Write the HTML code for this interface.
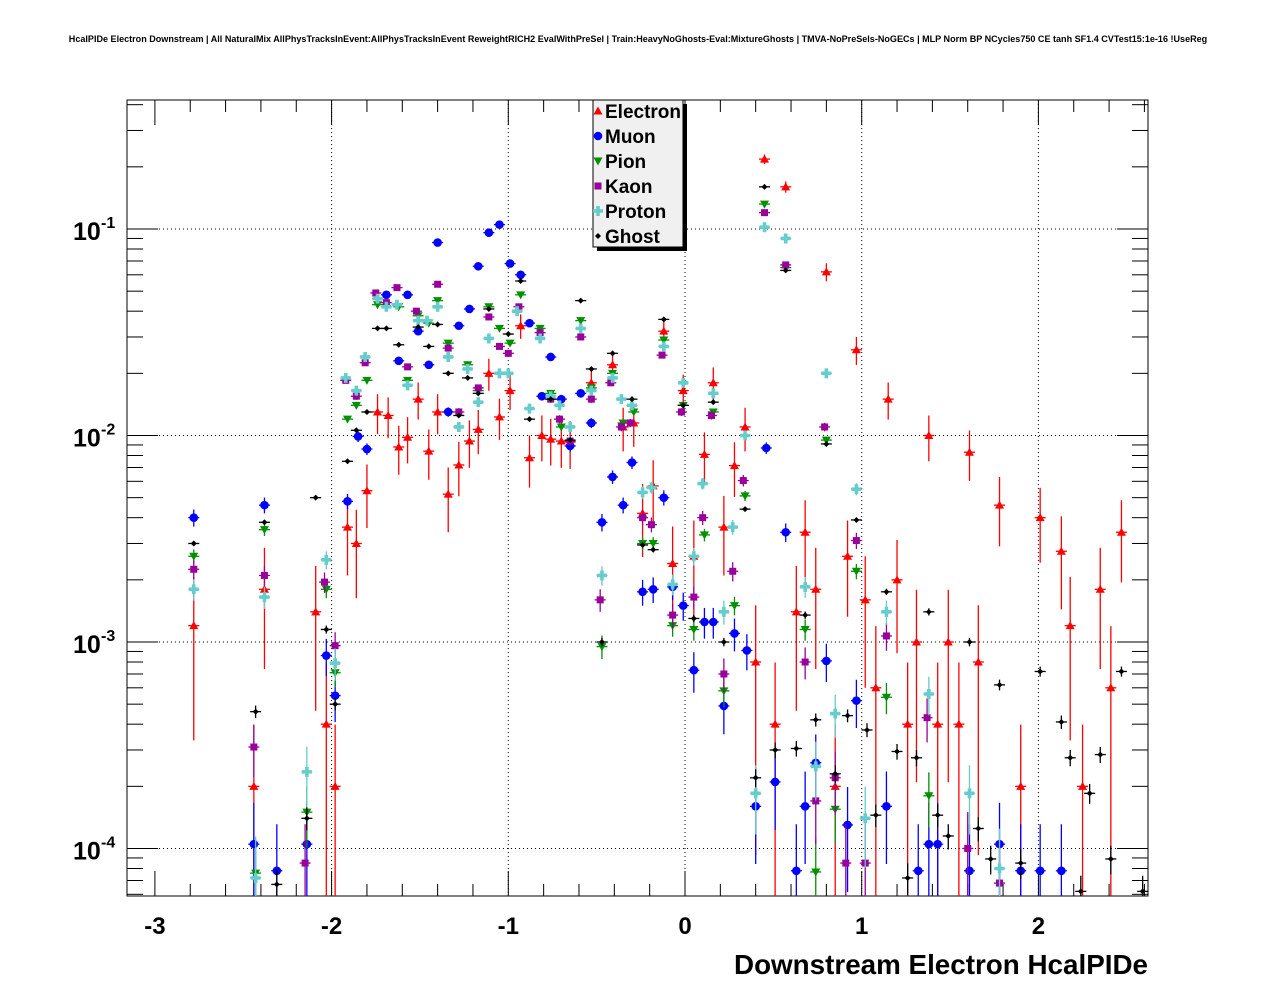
<!DOCTYPE html>
<html><head><meta charset="utf-8">
<style>
html,body{margin:0;padding:0;background:#fff;}
svg{display:block;font-family:"Liberation Sans",sans-serif;}
</style></head>
<body>
<svg id="chart" width="1276" height="996" viewBox="0 0 1276 996" xmlns="http://www.w3.org/2000/svg">
<rect width="1276" height="996" fill="#fff"/>
<text x="638" y="42" text-anchor="middle" font-size="9.05" font-weight="bold">HcalPIDe Electron Downstream | All NaturalMix AllPhysTracksInEvent:AllPhysTracksInEvent ReweightRICH2 EvalWithPreSel | Train:HeavyNoGhosts-Eval:MixtureGhosts | TMVA-NoPreSels-NoGECs | MLP Norm BP NCycles750 CE tanh SF1.4 CVTest15:1e-16 !UseReg</text>
<defs><clipPath id="clip"><rect x="127" y="100" width="1021" height="796"/></clipPath></defs>
<g id="grid"></g>
<g id="axes"></g>
<g id="marks" clip-path="url(#clip)"></g>
<g id="legend"></g>
<text x="1148" y="974" text-anchor="end" font-size="27.8" font-weight="bold">Downstream Electron HcalPIDe</text>
</svg>
<script>
const xTicks = [-3, -2, -1, 0, 1, 2];
const yDecades = [-1, -2, -3, -4];
const seriesNames = ["Electron", "Muon", "Pion", "Kaon", "Proton", "Ghost"];

const electronX = [-2.78,-2.44,-2.38,-2.09,-2.03,-1.98,-1.91,-1.86,-1.80,-1.74,-1.68,-1.62,-1.57,-1.51,-1.45,-1.40,-1.34,-1.28,-1.22,-1.17,-1.11,-1.05,-0.99,-0.93,-0.88,-0.81,-0.76,-0.70,-0.65,-0.53,-0.41,-0.35,-0.29,-0.24,-0.18,-0.12,-0.07,-0.01,0.05,0.11,0.16,0.22,0.28,0.34,0.40,0.45,0.51,0.57,0.63,0.68,0.74,0.80,0.85,0.92,0.97,1.02,1.08,1.15,1.20,1.26,1.31,1.38,1.43,1.49,1.55,1.61,1.66,1.78,1.90,2.01,2.13,2.18,2.25,2.35,2.41,2.47];
const electronY = [1.2e-3,2.0e-4,1.8e-3,1.4e-3,4.0e-4,2.0e-4,3.6e-3,3.0e-3,5.4e-3,1.3e-2,1.25e-2,8.8e-3,9.8e-3,1.5e-2,8.4e-3,1.3e-2,5.2e-3,7.2e-3,9.4e-3,1.07e-2,2.0e-2,1.23e-2,1.65e-2,3.4e-2,7.8e-3,1.0e-2,9.6e-3,9.4e-3,9.3e-3,1.8e-2,2.2e-2,1.1e-2,1.15e-2,4.2e-3,5.7e-3,3.2e-2,2.4e-3,1.65e-2,2.6e-3,8.1e-3,1.8e-2,3.6e-3,7.15e-3,1.1e-2,8.0e-4,0.218,4.0e-4,0.16,1.4e-3,3.4e-3,1.8e-3,6.2e-2,2.0e-4,2.6e-3,2.6e-2,1.6e-3,6.0e-4,1.5e-2,2.0e-3,4.0e-4,1.0e-3,1.0e-2,4.0e-4,1.0e-3,4.0e-4,8.3e-3,8.0e-4,4.6e-3,2.0e-4,4.0e-3,2.75e-3,1.2e-3,2.0e-4,1.8e-3,6.0e-4,3.4e-3];

const muonX = [-2.78,-2.44,-2.38,-2.31,-2.14,-2.03,-1.98,-1.91,-1.85,-1.80,-1.69,-1.62,-1.57,-1.51,-1.45,-1.40,-1.34,-1.28,-1.22,-1.17,-1.11,-1.05,-0.99,-0.93,-0.88,-0.81,-0.76,-0.70,-0.65,-0.59,-0.53,-0.47,-0.41,-0.35,-0.30,-0.24,-0.18,-0.12,-0.07,-0.01,0.05,0.11,0.16,0.22,0.28,0.35,0.40,0.46,0.51,0.57,0.63,0.68,0.74,0.80,0.92,0.97,1.14,1.32,1.38,1.43,1.61,1.78,1.90,2.01,2.13];
const muonY = [4.0e-3,1.05e-4,4.6e-3,7.8e-5,1.05e-4,8.6e-4,5.5e-4,4.8e-3,9.9e-3,8.6e-3,4.8e-2,2.3e-2,4.8e-2,3.2e-2,2.2e-2,8.6e-2,1.3e-2,3.4e-2,4.1e-2,6.6e-2,9.6e-2,0.105,6.8e-2,6.0e-2,3.5e-2,1.55e-2,2.4e-2,1.5e-2,8.9e-3,1.6e-2,1.15e-2,3.8e-3,6.3e-3,4.6e-3,7.4e-3,1.75e-3,1.8e-3,5.0e-3,1.85e-3,1.5e-3,7.3e-4,1.25e-3,1.25e-3,4.9e-4,1.1e-3,9.1e-4,1.6e-4,8.7e-3,2.1e-4,3.4e-3,7.8e-5,1.6e-4,2.6e-4,8.1e-4,1.3e-4,5.2e-4,1.6e-4,7.8e-5,1.05e-4,1.05e-4,7.8e-5,1.05e-4,7.8e-5,7.8e-5,7.8e-5];

const pionX = [-2.78,-2.43,-2.38,-2.14,-2.03,-1.98,-1.91,-1.86,-1.80,-1.74,-1.62,-1.57,-1.51,-1.45,-1.40,-1.34,-1.23,-1.17,-1.11,-1.05,-0.99,-0.93,-0.82,-0.76,-0.70,-0.59,-0.53,-0.47,-0.41,-0.35,-0.29,-0.24,-0.18,-0.12,-0.07,-0.01,0.05,0.11,0.16,0.22,0.28,0.34,0.45,0.57,0.68,0.74,0.80,0.85,0.97,1.14,1.38];
const pionY = [2.6e-3,7.6e-5,3.5e-3,1.5e-4,1.8e-3,7.1e-4,1.2e-2,1.4e-2,1.85e-2,4.3e-2,4.2e-2,1.85e-2,3.8e-2,3.5e-2,4.5e-2,2.8e-2,2.2e-2,1.65e-2,4.2e-2,3.3e-2,2.8e-2,4.8e-2,3.3e-2,1.6e-2,1.1e-2,3.6e-2,1.7e-2,9.5e-4,2.0e-2,1.15e-2,1.3e-2,3.0e-3,3.0e-3,2.9e-2,1.2e-3,1.4e-2,1.15e-3,3.3e-3,1.3e-2,5.8e-4,1.5e-3,5.1e-3,0.132,6.5e-2,1.15e-3,7.7e-5,9.5e-3,1.55e-4,2.2e-3,5.4e-4,1.8e-4];

const kaonX = [-2.78,-2.44,-2.38,-2.15,-2.04,-1.98,-1.92,-1.86,-1.81,-1.75,-1.69,-1.63,-1.57,-1.52,-1.40,-1.34,-1.28,-1.17,-1.11,-1.05,-1.00,-0.94,-0.82,-0.76,-0.71,-0.65,-0.59,-0.53,-0.48,-0.42,-0.36,-0.31,-0.24,-0.19,-0.13,-0.07,-0.02,0.05,0.10,0.15,0.22,0.27,0.33,0.45,0.57,0.68,0.74,0.79,0.85,0.91,0.97,1.02,1.14,1.37,1.60,1.78];
const kaonY = [2.25e-3,3.1e-4,2.1e-3,8.5e-5,1.95e-3,9.6e-4,1.85e-2,1.55e-2,2.25e-2,4.9e-2,4.4e-2,5.2e-2,2.15e-2,4.0e-2,5.4e-2,2.65e-2,1.3e-2,1.7e-2,3.75e-2,2.7e-2,2.5e-2,4.2e-2,3.15e-2,1.5e-2,1.2e-2,9.4e-3,3.0e-2,1.5e-2,1.6e-3,1.8e-2,1.1e-2,1.15e-2,4.0e-3,3.7e-3,2.45e-2,1.35e-3,1.3e-2,1.65e-3,4.0e-3,1.25e-2,7.0e-4,2.2e-3,6.05e-3,0.12,6.7e-2,8.0e-4,1.7e-4,1.1e-2,2.2e-4,8.5e-5,3.1e-3,8.5e-5,1.07e-3,4.3e-4,1.0e-4,6.8e-5];

const protonX = [-2.78,-2.43,-2.38,-2.14,-2.03,-1.98,-1.92,-1.86,-1.81,-1.74,-1.69,-1.63,-1.57,-1.51,-1.46,-1.40,-1.34,-1.28,-1.23,-1.17,-1.11,-1.05,-1.00,-0.95,-0.88,-0.82,-0.76,-0.71,-0.65,-0.59,-0.53,-0.47,-0.41,-0.36,-0.30,-0.24,-0.19,-0.12,-0.07,-0.01,0.05,0.10,0.16,0.22,0.27,0.34,0.40,0.45,0.57,0.68,0.74,0.80,0.85,0.97,1.02,1.14,1.38,1.61,1.78];
const protonY = [1.8e-3,7.2e-5,1.65e-3,2.35e-4,2.5e-3,7.9e-4,1.9e-2,1.65e-2,2.4e-2,4.6e-2,4.2e-2,4.3e-2,1.75e-2,3.6e-2,3.6e-2,4.2e-2,2.4e-2,1.1e-2,2.1e-2,1.45e-2,2.95e-2,2.0e-2,2.0e-2,4.0e-2,1.35e-2,2.95e-2,1.55e-2,1.4e-2,1.1e-2,3.3e-2,1.65e-2,2.1e-3,1.9e-2,1.5e-2,1.4e-2,5.3e-3,5.6e-3,2.7e-2,1.9e-3,1.8e-2,2.6e-3,5.85e-3,1.6e-2,1.4e-3,3.6e-3,1.0e-2,1.85e-4,0.102,9.0e-2,1.85e-3,2.5e-4,2.0e-2,4.5e-4,5.5e-3,1.4e-4,1.4e-3,5.6e-4,1.85e-4,8.0e-5];

const ghostX = [-2.78,-2.43,-2.38,-2.31,-2.14,-2.09,-2.03,-1.98,-1.91,-1.86,-1.80,-1.74,-1.69,-1.62,-1.51,-1.45,-1.40,-1.34,-1.28,-1.23,-1.17,-1.11,-1.00,-0.93,-0.88,-0.76,-0.65,-0.59,-0.53,-0.47,-0.41,-0.30,-0.24,-0.18,-0.12,-0.01,0.05,0.16,0.22,0.34,0.40,0.45,0.51,0.57,0.63,0.68,0.74,0.80,0.85,0.92,0.97,1.03,1.08,1.14,1.20,1.26,1.31,1.38,1.43,1.49,1.61,1.66,1.73,1.78,1.90,2.01,2.13,2.18,2.24,2.29,2.35,2.41,2.47,2.59];
const ghostY = [3.0e-3,4.6e-4,3.8e-3,6.7e-5,1.4e-4,5.0e-3,1.15e-3,5.0e-4,7.5e-3,1.06e-2,1.3e-2,3.3e-2,3.3e-2,2.75e-2,3.35e-2,2.7e-2,3.45e-2,2.0e-2,1.25e-2,1.9e-2,1.6e-2,4.1e-2,3.1e-2,5.6e-2,1.2e-2,1.5e-2,9.5e-3,4.5e-2,2.1e-2,1.0e-3,2.5e-2,1.5e-2,2.95e-3,2.8e-3,3.65e-2,1.4e-2,1.3e-3,1.45e-2,1.0e-3,4.4e-3,2.2e-4,0.16,3.0e-4,6.3e-2,3.05e-4,1.35e-3,4.2e-4,9.1e-3,2.3e-4,4.4e-4,3.9e-3,3.75e-4,1.45e-4,1.75e-3,2.95e-4,7.2e-5,2.75e-4,1.4e-3,1.45e-4,1.15e-4,1.0e-3,1.25e-4,8.9e-5,6.2e-4,8.5e-5,7.2e-4,4.1e-4,2.75e-4,6.2e-5,1.85e-4,2.85e-4,8.9e-5,7.2e-4,6.2e-5];

const NS = "http://www.w3.org/2000/svg";
const X0 = 127, X1 = 1148, Y0 = 100, Y1 = 896;
function sx(v){ return 685 + v * 176.7; }
function sy(v){ return 229 - (Math.log10(v) + 1) * 206.5; }
function mk(tag, attrs, parent){
  const e = document.createElementNS(NS, tag);
  for (const k in attrs) e.setAttribute(k, attrs[k]);
  parent.appendChild(e);
  return e;
}
const grid = document.getElementById('grid');
const axes = document.getElementById('axes');
const marks = document.getElementById('marks');
const legend = document.getElementById('legend');

xTicks.forEach(t => {
  if (t === -3) return;
  const l = mk('line', {x1: sx(t), x2: sx(t), y1: Y0, y2: Y1, stroke: '#000', 'stroke-width': 1, 'stroke-dasharray': '1,3'}, grid);
  
  
});
yDecades.forEach(d => {
  const l = mk('line', {x1: X0, x2: X1, y1: sy(Math.pow(10, d)), y2: sy(Math.pow(10, d)), stroke: '#000', 'stroke-width': 1, 'stroke-dasharray': '1,3'}, grid);
  
  
});

const frame = mk('rect', {x: X0, y: Y0, width: X1 - X0, height: Y1 - Y0, fill: 'none', stroke: '#000', 'stroke-width': 1}, axes);



for (let i = -16; i <= 14; i++) {
  const v = i * 0.2;
  const px = sx(v);
  if (px < X0 || px > X1) continue;
  const major = Math.abs(v - Math.round(v)) < 1e-6;
  const len = major ? 25 : 12;
  mk('line', {x1: px, x2: px, y1: Y1, y2: Y1 - len, stroke: '#000'}, axes);
  mk('line', {x1: px, x2: px, y1: Y0, y2: Y0 + len, stroke: '#000'}, axes);
}
xTicks.forEach(t => {
  const tx = mk('text', {x: sx(t), y: 934, 'text-anchor': 'middle', 'font-size': 24, 'font-weight': 'bold'}, axes);
  tx.textContent = String(t);
  
  
});
for (let d = -5; d <= 0; d++) {
  for (let m = 1; m <= 9; m++) {
    const v = m * Math.pow(10, d);
    const py = sy(v);
    if (py < Y0 || py > Y1) continue;
    const len = m === 1 ? 31 : 16;
    mk('line', {x1: X0, x2: X0 + len, y1: py, y2: py, stroke: '#000'}, axes);
    mk('line', {x1: X1, x2: X1 - len, y1: py, y2: py, stroke: '#000'}, axes);
  }
}
yDecades.forEach(d => {
  const py = sy(Math.pow(10, d));
  const tx = mk('text', {x: 73, y: py + 11, 'font-size': 25, 'font-weight': 'bold'}, axes);
  tx.textContent = '10';
  
  
  const ex = mk('text', {x: 101, y: py - 1, 'font-size': 16, 'font-weight': 'bold'}, axes);
  ex.textContent = String(d);
  
  
});

function marker(kind, color, cx, cy, parent){
  let e;
  if (kind === 'tri') e = mk('polygon', {points: `${cx},${cy-4.5} ${cx-4.5},${cy+3.5} ${cx+4.5},${cy+3.5}`, fill: color}, parent);
  else if (kind === 'circ') e = mk('circle', {cx: cx, cy: cy, r: 4.3, fill: color}, parent);
  else if (kind === 'tridown') e = mk('polygon', {points: `${cx-4.5},${cy-3.5} ${cx+4.5},${cy-3.5} ${cx},${cy+4.5}`, fill: color}, parent);
  else if (kind === 'sq') e = mk('rect', {x: cx - 3.5, y: cy - 3.5, width: 7, height: 7, fill: color}, parent);
  else if (kind === 'cross') e = mk('path', {d: `M${cx-5},${cy-1.8}h3.2v-3.2h3.6v3.2h3.2v3.6h-3.2v3.2h-3.6v-3.2h-3.2z`, fill: color}, parent);
  else e = mk('path', {d: `M${cx},${cy-3}L${cx+3},${cy}L${cx},${cy+3}L${cx-3},${cy}z`, fill: color}, parent);
  return e;
}
const series = [
  {name: 'electron', xs: electronX, ys: electronY, color: '#ff0000', kind: 'tri', c: 0.025},
  {name: 'muon', xs: muonX, ys: muonY, color: '#0000ff', kind: 'circ', c: 0.006},
  {name: 'pion', xs: pionX, ys: pionY, color: '#009000', kind: 'tridown', c: 0.004},
  {name: 'kaon', xs: kaonX, ys: kaonY, color: '#990099', kind: 'sq', c: 0.005},
  {name: 'proton', xs: protonX, ys: protonY, color: '#66cccc', kind: 'cross', c: 0.005},
  {name: 'ghost', xs: ghostX, ys: ghostY, color: '#000000', kind: 'dia', c: 0.0015}
];
series.forEach(s => {
  const g = mk('g', {}, marks);
  
  
  for (let i = 0; i < s.xs.length; i++) {
    const px = sx(s.xs[i]), py = sy(s.ys[i]);
    const rel = Math.min(0.99, s.c / Math.sqrt(s.ys[i]));
    const yLo = sy(s.ys[i] * (1 - rel)), yHi = sy(s.ys[i] * (1 + rel));
    mk('line', {x1: px, x2: px, y1: Math.min(yLo, 1000), y2: yHi, stroke: s.color, 'stroke-width': 1.3}, g);
    mk('line', {x1: px - 5.5, x2: px + 5.5, y1: py, y2: py, stroke: s.color, 'stroke-width': 1.3}, g);
    const m = marker(s.kind, s.color, px, py, g);
    
    
  }
});

mk('rect', {x: 597, y: 104, width: 90, height: 147, fill: '#000'}, legend);
const box = mk('rect', {x: 593, y: 100, width: 90, height: 147, fill: '#f0f0f0', stroke: '#000', 'stroke-width': 1}, legend);


seriesNames.forEach((n, i) => {
  const s = series[i];
  const cy = 111 + i * 25;
  const g = mk('g', {}, legend);
  
  
  marker(s.kind, s.color, 598, cy, g);
  const t = mk('text', {x: 605, y: cy + 7, 'font-size': 19, 'font-weight': 'bold'}, g);
  t.textContent = n;
});
</script>
</body></html>
